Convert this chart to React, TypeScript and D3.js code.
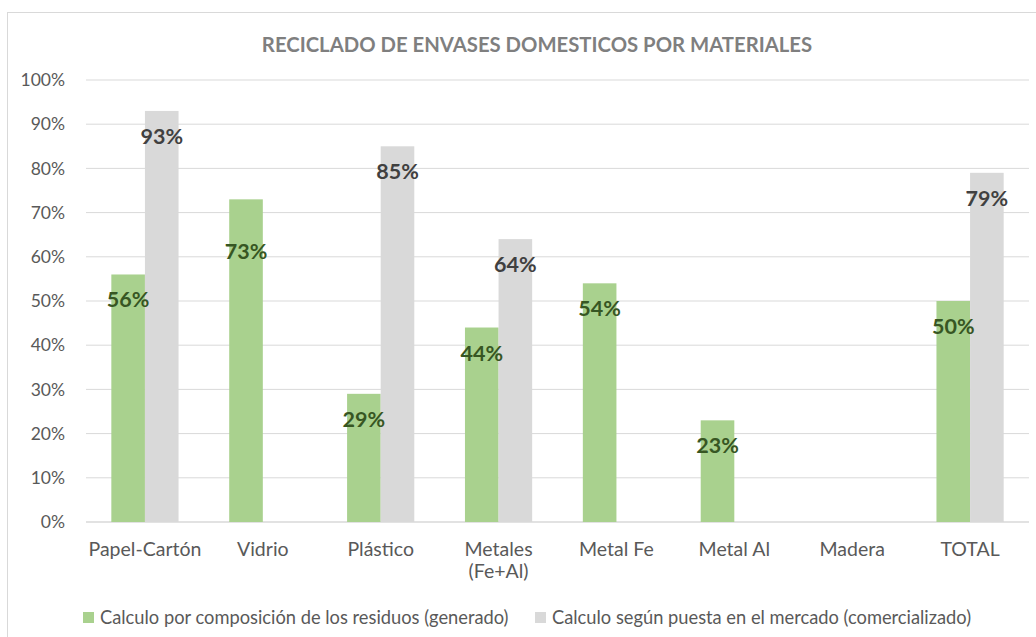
import React from "react";
import * as d3 from "d3";

const title = "RECICLADO DE ENVASES DOMESTICOS POR MATERIALES";
const categories = ["Papel-Cartón", "Vidrio", "Plástico", "Metales\n(Fe+Al)", "Metal Fe", "Metal Al", "Madera", "TOTAL"];
const seriesNames = [
  "Calculo por composición de los residuos (generado)",
  "Calculo según puesta en el mercado (comercializado)",
];
const generado = [56, 73, 29, 44, 54, 23, null, 50];
const comercializado = [93, null, 85, 64, null, null, null, 79];
const yTicks = [0, 10, 20, 30, 40, 50, 60, 70, 80, 90, 100];

const colors = ["#A9D18E", "#D9D9D9"];
const labelColors = ["#375623", "#404040"];
// the Vidrio label sits lower in the original
const labelNudge: Record<string, number> = { Vidrio: 27 };

export default function App() {
  const width = 1036;
  const height = 637;
  const left = 86;
  const right = 1029;
  const top = 80;
  const bottom = 522;
  const font = "Lato, 'Open Sans', sans-serif";

  const x0 = d3.scaleBand().domain(categories).range([left, right]).padding(0);
  const x1 = d3.scaleBand().domain(["0", "1"]).range([0, x0.bandwidth()]).paddingInner(0).paddingOuter(0.754);
  const y = d3.scaleLinear().domain([0, 100]).range([bottom, top]);

  const series = [generado, comercializado];

  return (
    <svg width={width} height={height} style={{ position: "absolute", left: 0, top: 0, background: "#fff" }}>
      <rect x={7.5} y={12.5} width={1040} height={640} fill="#fff" stroke="#D9D9D9" />
      <text x={537} y={52} textAnchor="middle" fontFamily={font} fontWeight="bold" fontSize={20.3} fill="#7F7F7F">
        {title}
      </text>
      {yTicks.map(t => (
        <g key={t}>
          <line x1={left} x2={right} y1={y(t)} y2={y(t)} stroke="#D9D9D9" strokeWidth={t === 0 ? 1.5 : 1} />
          <text x={65} y={y(t)} dy="0.35em" textAnchor="end" fontFamily={font} fontSize={17.5} fill="#595959">
            {t + "%"}
          </text>
        </g>
      ))}
      {series.map((vals, si) =>
        vals.map((v, i) =>
          v == null ? null : (
            <rect
              key={si + "-" + i}
              x={(x0(categories[i]) as number) + (x1(String(si)) as number)}
              y={y(v)}
              width={x1.bandwidth()}
              height={bottom - y(v)}
              fill={colors[si]}
            />
          )
        )
      )}
      {series.map((vals, si) =>
        vals.map((v, i) =>
          v == null ? null : (
            <text
              key={"l" + si + "-" + i}
              x={(x0(categories[i]) as number) + (x1(String(si)) as number) + x1.bandwidth() / 2}
              y={y(v) + 33 + (si === 0 ? labelNudge[categories[i]] || 0 : 0)}
              textAnchor="middle"
              fontFamily={font}
              fontWeight="bold"
              fontSize={21.5}
              fill={labelColors[si]}
            >
              {v + "%"}
            </text>
          )
        )
      )}
      {categories.map(c => (
        <text key={c} textAnchor="middle" fontFamily={font} fontSize={19.5} fill="#595959">
          {c.split("\n").map((line, li) => (
            <tspan key={li} x={(x0(c) as number) + x0.bandwidth() / 2} y={556 + li * 22}>
              {line}
            </tspan>
          ))}
        </text>
      ))}
      {seriesNames.map((name, si) => {
        const lx = si === 0 ? 83 : 535;
        return (
          <g key={name}>
            <rect x={lx} y={612} width={11} height={11} fill={colors[si]} />
            <text x={lx + 17} y={618} dy="0.35em" fontFamily={font} fontSize={18.3} fill="#595959">
              {name}
            </text>
          </g>
        );
      })}
    </svg>
  );
}
